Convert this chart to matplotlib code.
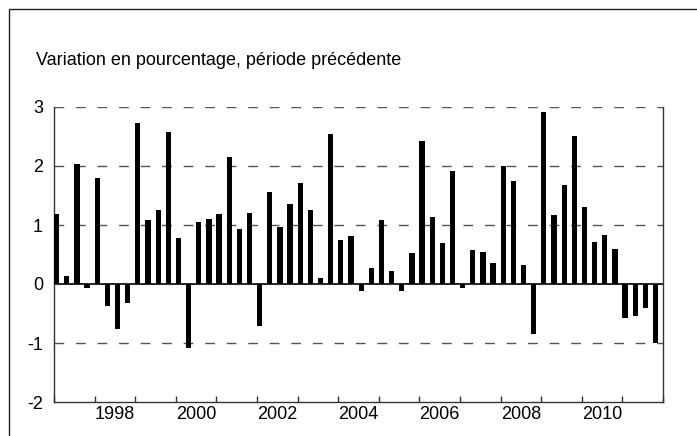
import numpy as np
import matplotlib
matplotlib.use("Agg")
import matplotlib.pyplot as plt
from matplotlib.patches import Rectangle

plt.rcParams['font.family'] = ['Liberation Sans', 'DejaVu Sans']

# quarterly change, 1997Q1 .. 2011Q4
values = [1.19, 0.14, 2.04, -0.06,
          1.80, -0.38, -0.76, -0.32,
          2.73, 1.08, 1.26, 2.58,
          0.78, -1.08, 1.05, 1.11,
          1.18, 2.15, 0.93, 1.20,
          -0.71, 1.56, 0.96, 1.36,
          1.72, 1.26, 0.11, 2.54,
          0.74, 0.82, -0.12, 0.27,
          1.09, 0.22, -0.12, 0.52,
          2.42, 1.14, 0.70, 1.92,
          -0.07, 0.57, 0.54, 0.36,
          2.00, 1.75, 0.33, -0.84,
          2.91, 1.17, 1.68, 2.51,
          1.30, 0.71, 0.83, 0.59,
          -0.58, -0.55, -0.41, -1.00]
start_year = 1997
year_labels = ['1998', '2000', '2002', '2004', '2006', '2008', '2010']
title = "Variation en pourcentage, période précédente"

x = start_year + np.arange(len(values)) * 0.25

fig = plt.figure(figsize=(6.97, 4.36), dpi=100)
ax = fig.add_axes([54/697, 1 - 402/436, (663 - 54)/697, (402 - 107)/436])

# outer frame
fig.patches.append(Rectangle((8.5/697, -0.1), 1.2, 1 - 9.5/436 + 0.1,
                             transform=fig.transFigure, fill=False,
                             edgecolor='#222222', lw=1.0))

for yv in [1, 2, 3, -1]:
    ax.axhline(yv, color='#555555', lw=1.0, dashes=(7, 8.5), zorder=1)
ax.axhline(0, color='black', lw=1.2, zorder=2)

ax.bar(x, values, width=0.13, align='edge', color='black', zorder=3)

ax.set_xlim(1997, 2012)
ax.set_ylim(-2, 3)

ax.spines['top'].set_visible(False)
for s in ['left', 'right', 'bottom']:
    ax.spines[s].set_color('#333333')
    ax.spines[s].set_linewidth(1.0)

ax.set_yticks([-2, -1, 0, 1, 2, 3])
ax.set_yticklabels(['-2', '-1', '0', '1', '2', '3'])
ax.tick_params(axis='y', length=0, pad=8, labelsize=13)

ax.set_xticks(np.arange(1997, 2013))
ax.set_xticklabels([])
ax.tick_params(axis='x', which='major', direction='in', length=4,
               color='#333333', width=1.0)
ax.set_xticks([int(y) + 0.5 for y in year_labels], minor=True)
ax.set_xticklabels(year_labels, minor=True)
ax.tick_params(axis='x', which='minor', length=0, pad=3, labelsize=13)

fig.text(36/697, 1 - 60/436, title, fontsize=13, va='center', ha='left')

fig.savefig('out.png', dpi=100)
